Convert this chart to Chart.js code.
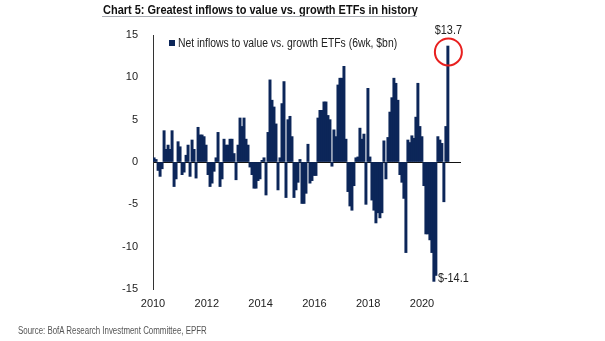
<!DOCTYPE html>
<html>
<head>
<meta charset="utf-8">
<script src="https://cdn.jsdelivr.net/npm/chart.js@4/dist/chart.umd.min.js"></script>
<style>
  html, body { margin: 0; padding: 0; background: #fff; }
  #wrap { position: relative; width: 605px; height: 341px; }
  canvas { position: absolute; left: 0; top: 0; }
  #title { position: absolute; left: 103px; top: 2px; font: bold 13px "Liberation Sans", Arial, sans-serif; color: #111; white-space: nowrap; transform: scaleX(0.845); transform-origin: 0 0; }
  #rule { position: absolute; left: 102px; top: 16px; width: 315px; height: 1px; background: #a9adb4; }
  #source { position: absolute; left: 18px; top: 325px; font: 10px "Liberation Sans", Arial, sans-serif; color: #555; white-space: nowrap; transform: scaleX(0.79); transform-origin: 0 0; }
</style>
</head>
<body>
<div id="wrap">
  <canvas id="c" width="605" height="341"></canvas>
  <div id="title">Chart 5: Greatest inflows to value vs. growth ETFs in history</div>
  <div id="rule"></div>
  <div id="source">Source: BofA Research Investment Committee, EPFR</div>
</div>
<script>
// ---- data (~4-weekly samples starting early 2010) ----
const seriesName = "Net inflows to value vs. growth ETFs (6wk, $bn)";
const startYear = 2010.04;
const stepYears = 0.0743;
const netInflows = [
  0.5, 0.3, -1.0, -1.7, -0.8, 3.7, 1.5, 2.0, 1.5, 3.7,
  -2.9, -2.0, 2.4, 1.8, -1.5, -1.2, 0.8, 2.0, -1.7, 2.6,
  1.5, -1.9, 4.1, 3.2, 3.2, 3.0, 2.0, -1.5, -2.9, -2.5,
  -1.1, 0.5, 3.5, -2.9, -2.0, 2.7, 2.0, 2.0, 2.7, 2.7,
  1.0, -2.1, 2.0, 5.2, 4.2, 5.2, 2.7, 2.0, -0.6, -1.5,
  -3.1, -3.1, -2.2, -2.0, 0.2, 0.5, -3.9, 3.5, 9.7, 7.3,
  6.5, 4.5, -3.3, 0.5, 6.9, 9.5, -4.2, 5.0, 5.4, 3.0,
  -4.2, -3.3, -2.4, 0.3, -4.9, -4.9, -3.7, 2.1, -2.5, -2.2,
  -1.6, -1.6, 5.2, 6.1, 6.1, 7.1, 7.1, 5.5, 5.0, -0.5,
  3.8, 3.0, 9.1, 9.9, 9.9, 11.3, 2.7, -3.5, -5.2, -5.7,
  -2.8, 0.5, 0.6, 4.0, 2.7, 3.3, -5.0, 8.7, 0.6, -4.5,
  -5.7, -7.2, -6.0, -6.6, -6.0, 2.5, -2.0, 2.9, 5.9, 7.6,
  9.9, 9.3, 7.3, -1.5, -2.4, -4.3, -10.7, 2.6, 2.3, 3.1,
  2.8, 5.3, 9.3, 4.2, 3.0, -2.8, -8.5, -8.5, -9.2, -10.7,
  -14.1, -13.4, 3.0, 2.6, 2.2, -4.7, 4.2, 13.7
];
const yearTicks = [2010, 2012, 2014, 2016, 2018, 2020];
const yTicks = [-15, -10, -5, 0, 5, 10, 15];
const maxLabel = "$13.7";
const minLabel = "$-14.1";

const points = netInflows.map((v, i) => ({ x: startYear + i * stepYears, y: v }));
const maxIdx = netInflows.indexOf(Math.max(...netInflows));
const minIdx = netInflows.indexOf(Math.min(...netInflows));

const NAVY = "#0c2659";
const FONT = '"Liberation Sans", Arial, sans-serif';

function condensedText(ctx, text, x, y, sx, align) {
  ctx.save();
  ctx.translate(x, y);
  ctx.scale(sx, 1);
  ctx.textAlign = align;
  ctx.fillText(text, 0, 0);
  ctx.restore();
}

const overlay = {
  id: "overlay",
  afterDraw(chart) {
    const { ctx, scales } = chart;
    const xs = scales.x, ys = scales.y;
    ctx.save();
    // legend
    ctx.fillStyle = NAVY;
    ctx.fillRect(169, 40, 6, 6);
    ctx.fillStyle = "#222";
    ctx.font = "12.5px " + FONT;
    ctx.textBaseline = "middle";
    condensedText(ctx, seriesName, 178, 43.5, 0.83, "left");
    // max annotation
    const mx = xs.getPixelForValue(points[maxIdx].x);
    ctx.strokeStyle = "#e8201f";
    ctx.lineWidth = 2;
    ctx.beginPath();
    ctx.arc(mx + 0.5, ys.getPixelForValue(13.0), 13.5, 0, Math.PI * 2);
    ctx.stroke();
    ctx.fillStyle = "#222";
    condensedText(ctx, maxLabel, mx + 0.5, 31, 0.87, "center");
    // min annotation
    const nx = xs.getPixelForValue(points[minIdx].x);
    condensedText(ctx, minLabel, nx + 4, ys.getPixelForValue(points[minIdx].y) - 3, 0.87, "left");
    ctx.restore();
  }
};

new Chart(document.getElementById("c"), {
  type: "bar",
  data: {
    datasets: [{
      label: seriesName,
      data: points,
      backgroundColor: NAVY,
      borderWidth: 0,
      barThickness: 2.3,
      grouped: false
    }]
  },
  options: {
    responsive: false,
    animation: false,
    events: [],
    layout: { padding: { left: 0, right: 144, top: 35, bottom: 32 } },
    plugins: { legend: { display: false }, tooltip: { enabled: false }, title: { display: false } },
    scales: {
      x: {
        type: "linear",
        offset: false,
        min: 2010,
        max: 2021.45,
        afterBuildTicks(s) { s.ticks = yearTicks.map(v => ({ value: v })); },
        afterFit(s) { s.height = 20; },
        grid: { display: false, drawTicks: false, offset: false },
        border: { display: false },
        ticks: { padding: 8, color: "#222", font: { family: FONT, size: 11 }, callback: v => String(v), maxRotation: 0, autoSkip: false }
      },
      y: {
        min: -15,
        max: 15,
        afterBuildTicks(s) { s.ticks = yTicks.map(v => ({ value: v })); },
        afterFit(s) { s.width = 153; },
        grid: {
          drawTicks: false,
          color: c => (c.tick && c.tick.value === 0 ? "#111" : "rgba(0,0,0,0)"),
          lineWidth: 1
        },
        border: { display: true, color: "#333", width: 1 },
        ticks: { padding: 15, color: "#222", font: { family: FONT, size: 11 } }
      }
    }
  },
  plugins: [overlay]
});
</script>
</body>
</html>
